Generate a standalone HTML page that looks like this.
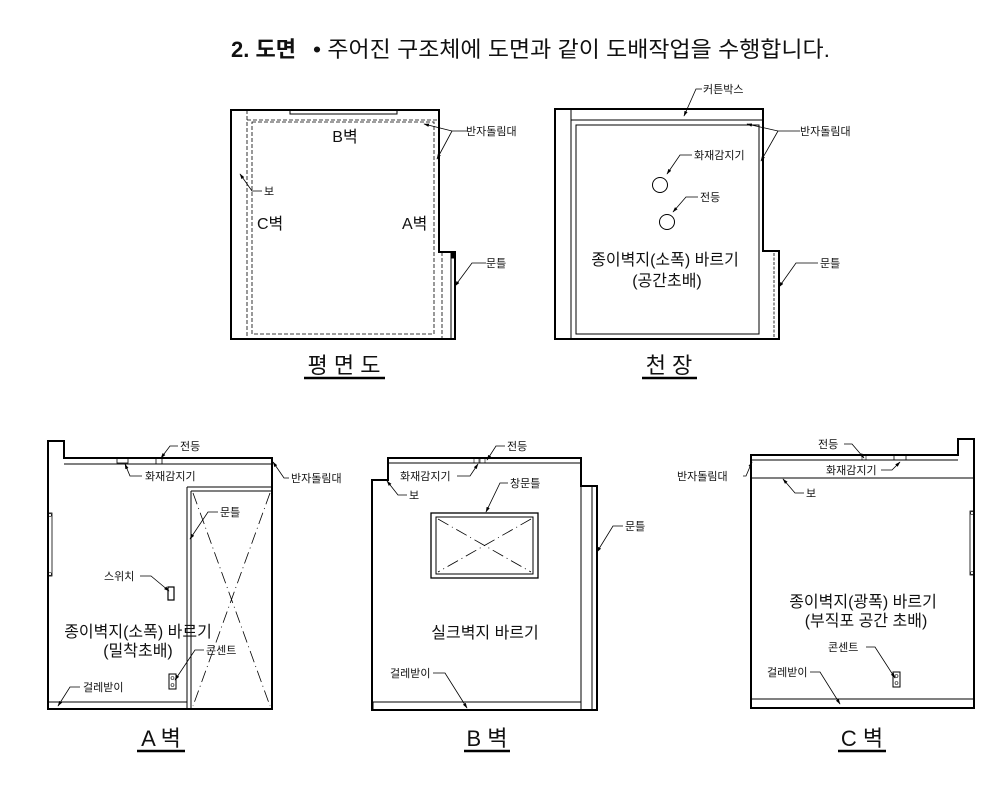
<!DOCTYPE html>
<html><head><meta charset="utf-8"><style>
html,body{margin:0;padding:0;background:#fff;}
svg{display:block;}
text{font-family:"Liberation Sans","Noto Sans CJK KR",sans-serif;fill:#111;}
.s{font-size:11px;}
.m{font-size:16px;}
.t{font-size:22px;}
</style></head><body>
<svg width="1007" height="787" viewBox="0 0 1007 787" xmlns="http://www.w3.org/2000/svg">
<defs>
<marker id="a" viewBox="0 0 10 10" refX="9" refY="5" markerWidth="7" markerHeight="7" orient="auto-start-reverse"><path d="M0,2 L10,5 L0,8 z" fill="#000"/></marker>
</defs>
<!-- header -->
<text x="231" y="57" style="font-size:22px;font-weight:bold">2. 도면</text>
<text x="313" y="57" style="font-size:22px" textLength="517" lengthAdjust="spacingAndGlyphs">• 주어진 구조체에 도면과 같이 도배작업을 수행합니다.</text>

<g fill="none" stroke="#000">
<!-- ===== 평면도 ===== -->
<path d="M231,110 H439 V252 H455 V339 H231 Z" stroke-width="2"/>
<line x1="247" y1="110" x2="247" y2="339" stroke-dasharray="4,2" stroke-width="0.8"/>
<line x1="247" y1="120" x2="439" y2="120" stroke-dasharray="4,2" stroke-width="0.8"/>
<rect x="252" y="122" width="182" height="212" stroke-dasharray="4,2" stroke-width="0.8"/>
<rect x="290" y="110" width="107" height="4" stroke-width="1"/>
<line x1="442" y1="252" x2="442" y2="339" stroke-dasharray="4,2" stroke-width="0.8"/>
<line x1="451" y1="252" x2="451" y2="339" stroke-width="1"/>
<rect x="451" y="252" width="4" height="6" fill="#000"/>
<polyline points="468,131 452,131 424,124" stroke-width="0.8" marker-end="url(#a)"/>
<polyline points="452,131 437,159" stroke-width="0.8" marker-end="url(#a)"/>
<polyline points="262,191 252,191 240,174" stroke-width="0.8" marker-end="url(#a)"/>
<polyline points="486,263 472,263 455,286" stroke-width="0.8" marker-end="url(#a)"/>
<line x1="304" y1="378" x2="385" y2="378" stroke-width="2.5"/>

<!-- ===== 천장 ===== -->
<path d="M555,109 H763 V251 H779 V339 H555 Z" stroke-width="2"/>
<line x1="571" y1="109" x2="571" y2="339" stroke-width="1"/>
<line x1="571" y1="120" x2="763" y2="120" stroke-width="1"/>
<rect x="576" y="125" width="183" height="209" stroke-width="1"/>
<line x1="774" y1="253" x2="774" y2="339" stroke-dasharray="3,1.5" stroke-width="0.8"/>
<circle cx="660" cy="185" r="7.5" stroke-width="1"/>
<circle cx="667" cy="222" r="7.5" stroke-width="1"/>
<polyline points="702,89 696,89 684,116" stroke-width="0.8" marker-end="url(#a)"/>
<polyline points="692,155 680,155 667,174" stroke-width="0.8" marker-end="url(#a)"/>
<polyline points="698,197 686,197 673,212" stroke-width="0.8" marker-end="url(#a)"/>
<polyline points="800,131 778,131 747,124" stroke-width="0.8" marker-end="url(#a)"/>
<polyline points="778,131 761,161" stroke-width="0.8" marker-end="url(#a)"/>
<polyline points="818,263 796,263 779,287" stroke-width="0.8" marker-end="url(#a)"/>
<line x1="642" y1="378" x2="697" y2="378" stroke-width="2.5"/>

<!-- ===== A벽 ===== -->
<path d="M48,441 H64 V458 H272 V709 H48 Z" stroke-width="2"/>
<line x1="64" y1="464" x2="272" y2="464" stroke-width="1"/>
<rect x="117" y="458" width="11" height="5" stroke-width="0.8"/>
<rect x="156" y="458" width="6" height="6" stroke-width="0.8"/>
<line x1="187" y1="487" x2="187" y2="709" stroke-width="1"/>
<line x1="191" y1="491" x2="191" y2="709" stroke-width="1"/>
<line x1="187" y1="487" x2="272" y2="487" stroke-width="1"/>
<line x1="191" y1="491" x2="272" y2="491" stroke-width="1"/>
<line x1="193" y1="493" x2="270" y2="706" stroke-dasharray="12,4,1,4" stroke-width="0.8"/>
<line x1="270" y1="493" x2="193" y2="706" stroke-dasharray="12,4,1,4" stroke-width="0.8"/>
<rect x="48" y="702" width="139" height="7" stroke-width="1"/>
<rect x="48" y="513" width="4" height="63" stroke-width="0.8"/>
<circle cx="50" cy="515" r="1.5" stroke-width="0.6"/><circle cx="50" cy="574" r="1.5" stroke-width="0.6"/>
<rect x="168" y="587" width="6" height="13" stroke-width="1.2"/>
<rect x="169" y="674" width="7" height="15" stroke-width="1"/>
<circle cx="172.5" cy="678" r="1.5" stroke-width="0.6"/><circle cx="172.5" cy="685" r="1.5" stroke-width="0.6"/>
<polyline points="178,446 170,446 161,458" stroke-width="0.8" marker-end="url(#a)"/>
<polyline points="142,476 130,476 125,464" stroke-width="0.8" marker-end="url(#a)"/>
<polyline points="289,478 284,478 273,462" stroke-width="0.8" marker-end="url(#a)"/>
<polyline points="218,512 208,512 190,539" stroke-width="0.8" marker-end="url(#a)"/>
<polyline points="140,576 151,576 169,591" stroke-width="0.8" marker-end="url(#a)"/>
<polyline points="204,650 195,650 175,680" stroke-width="0.8" marker-end="url(#a)"/>
<polyline points="80,687 70,687 58,706" stroke-width="0.8" marker-end="url(#a)"/>
<line x1="137" y1="751" x2="185" y2="751" stroke-width="2.5"/>

<!-- ===== B벽 ===== -->
<path d="M372,480 H388 V458 H581 V486 H597 V710 H372 Z" stroke-width="2"/>
<line x1="388" y1="463" x2="581" y2="463" stroke-width="1"/>
<line x1="581" y1="463" x2="581" y2="710" stroke-width="1"/>
<line x1="592" y1="486" x2="592" y2="710" stroke-width="1"/>
<rect x="373" y="702" width="208" height="8" stroke-width="1"/>
<rect x="474" y="458" width="5" height="5" stroke-width="0.6"/>
<rect x="480" y="458" width="5" height="5" stroke-width="0.6"/>
<rect x="431" y="513" width="107" height="65" stroke-width="1.3"/>
<rect x="436" y="517" width="97" height="57" stroke-width="1"/>
<line x1="438" y1="519" x2="531" y2="572" stroke-dasharray="12,4,1,4" stroke-width="0.8"/>
<line x1="531" y1="519" x2="438" y2="572" stroke-dasharray="12,4,1,4" stroke-width="0.8"/>
<polyline points="505,446 496,446 487,460" stroke-width="0.8" marker-end="url(#a)"/>
<polyline points="457,476 470,476 478,464" stroke-width="0.8" marker-end="url(#a)"/>
<polyline points="407,495 398,495 387,481" stroke-width="0.8" marker-end="url(#a)"/>
<polyline points="508,483 500,483 486,512" stroke-width="0.8" marker-end="url(#a)"/>
<polyline points="623,526 613,526 597,552" stroke-width="0.8" marker-end="url(#a)"/>
<polyline points="433,673 445,673 467,708" stroke-width="0.8" marker-end="url(#a)"/>
<line x1="464" y1="751" x2="510" y2="751" stroke-width="2.5"/>

<!-- ===== C벽 ===== -->
<path d="M751,455 H958 V439 H974 V708 H751 Z" stroke-width="2"/>
<line x1="751" y1="460" x2="958" y2="460" stroke-width="1"/>
<line x1="751" y1="478" x2="974" y2="478" stroke-width="1"/>
<line x1="751" y1="699" x2="974" y2="699" stroke-width="1"/>
<rect x="862" y="455" width="4" height="5" stroke-width="0.6"/>
<rect x="894" y="455" width="12" height="5" stroke-width="0.8"/>
<rect x="970" y="511" width="4" height="64" stroke-width="0.8"/>
<circle cx="972" cy="513" r="1.5" stroke-width="0.6"/><circle cx="972" cy="573" r="1.5" stroke-width="0.6"/>
<rect x="893" y="672" width="7" height="15" stroke-width="1"/>
<circle cx="896.5" cy="676" r="1.5" stroke-width="0.6"/><circle cx="896.5" cy="683" r="1.5" stroke-width="0.6"/>
<polyline points="844,444 852,444 864,458" stroke-width="0.8" marker-end="url(#a)"/>
<polyline points="881,470 892,470 900,462" stroke-width="0.8" marker-end="url(#a)"/>
<polyline points="743,476 746,476 752,462" stroke-width="0.8" marker-end="url(#a)"/>
<polyline points="804,493 795,493 783,479" stroke-width="0.8" marker-end="url(#a)"/>
<polyline points="866,647 875,647 895,678" stroke-width="0.8" marker-end="url(#a)"/>
<polyline points="810,672 820,672 840,704" stroke-width="0.8" marker-end="url(#a)"/>
<line x1="838" y1="751" x2="886" y2="751" stroke-width="2.5"/>
</g>

<!-- labels 평면도 -->
<text class="m" x="345" y="142" text-anchor="middle">B벽</text>
<text class="m" x="257" y="229">C벽</text>
<text class="m" x="402" y="229">A벽</text>
<text class="s" x="264" y="195">보</text>
<text class="s" x="466" y="135">반자돌림대</text>
<text class="s" x="486" y="267">문틀</text>
<text class="t" x="344" y="373" text-anchor="middle">평 면 도</text>

<!-- labels 천장 -->
<text class="s" x="703" y="93">커튼박스</text>
<text class="s" x="694" y="159">화재감지기</text>
<text class="s" x="700" y="201">전등</text>
<text class="s" x="800" y="135">반자돌림대</text>
<text class="s" x="820" y="267">문틀</text>
<text class="m" x="665" y="265" text-anchor="middle">종이벽지(소폭) 바르기</text>
<text class="m" x="667" y="286" text-anchor="middle">(공간초배)</text>
<text class="t" x="669" y="373" text-anchor="middle">천 장</text>

<!-- labels A벽 -->
<text class="s" x="180" y="450">전등</text>
<text class="s" x="145" y="480">화재감지기</text>
<text class="s" x="291" y="482">반자돌림대</text>
<text class="s" x="220" y="516">문틀</text>
<text class="s" x="104" y="580">스위치</text>
<text class="s" x="206" y="654">콘센트</text>
<text class="s" x="83" y="691">걸레받이</text>
<text class="m" x="138" y="637" text-anchor="middle">종이벽지(소폭) 바르기</text>
<text class="m" x="138" y="656" text-anchor="middle">(밀착초배)</text>
<text class="t" x="161" y="746" text-anchor="middle">A 벽</text>

<!-- labels B벽 -->
<text class="s" x="507" y="450">전등</text>
<text class="s" x="400" y="480">화재감지기</text>
<text class="s" x="409" y="499">보</text>
<text class="s" x="510" y="487">창문틀</text>
<text class="s" x="625" y="530">문틀</text>
<text class="s" x="390" y="677">걸레받이</text>
<text class="m" x="485" y="638" text-anchor="middle">실크벽지 바르기</text>
<text class="t" x="487" y="746" text-anchor="middle">B 벽</text>

<!-- labels C벽 -->
<text class="s" x="818" y="448">전등</text>
<text class="s" x="826" y="474">화재감지기</text>
<text class="s" x="677" y="480">반자돌림대</text>
<text class="s" x="806" y="497">보</text>
<text class="s" x="828" y="651">콘센트</text>
<text class="s" x="767" y="676">걸레받이</text>
<text class="m" x="863" y="607" text-anchor="middle">종이벽지(광폭) 바르기</text>
<text class="m" x="866" y="626" text-anchor="middle">(부직포 공간 초배)</text>
<text class="t" x="862" y="746" text-anchor="middle">C 벽</text>
</svg>
</body></html>
